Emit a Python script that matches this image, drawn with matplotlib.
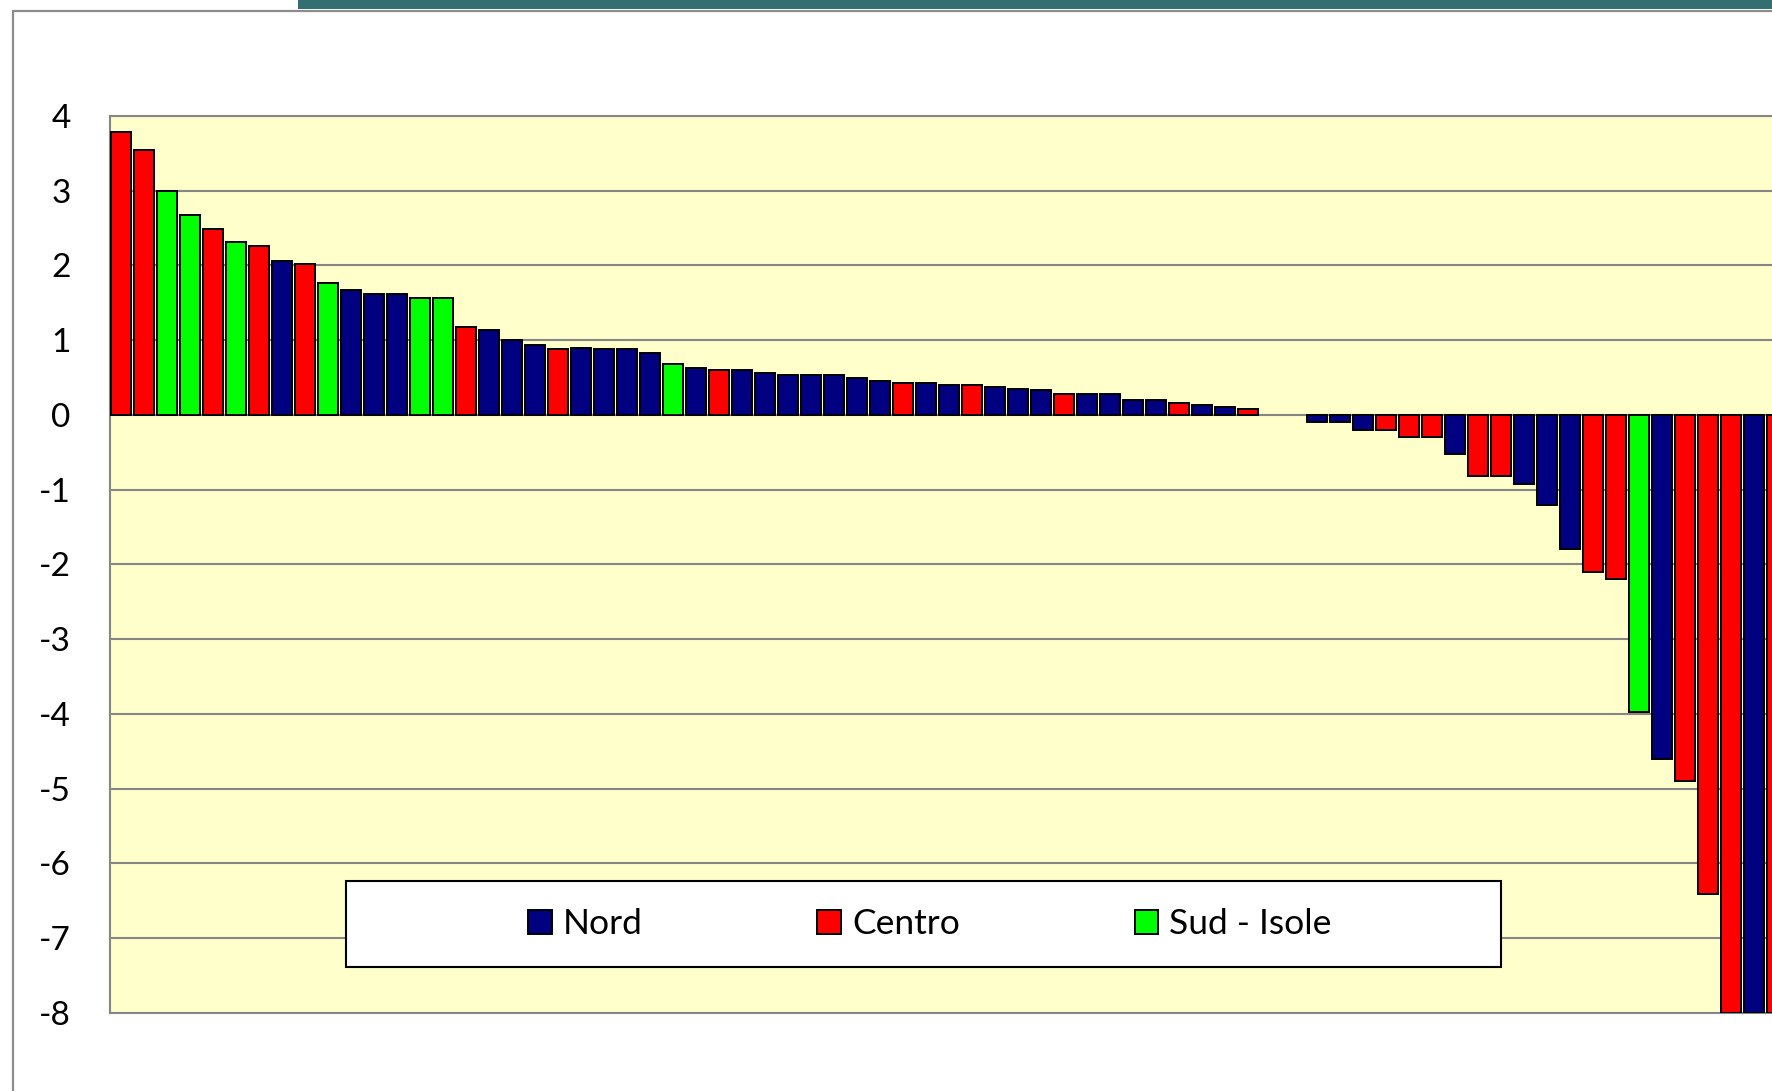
import matplotlib
matplotlib.use("Agg")
import matplotlib.pyplot as plt
from matplotlib.patches import Rectangle, Patch

plt.rcParams['font.family'] = ['Lato', 'DejaVu Sans']
plt.rcParams['axes.unicode_minus'] = False

# ---- data ----
values_pos = [3.79, 3.55, 2.99, 2.68, 2.49, 2.31, 2.26, 2.06, 2.02, 1.77,
              1.67, 1.62, 1.62, 1.57, 1.57, 1.18, 1.13, 1.00, 0.93, 0.88,
              0.89, 0.88, 0.88, 0.83, 0.68, 0.63, 0.60, 0.60, 0.56, 0.53,
              0.53, 0.53, 0.50, 0.46, 0.43, 0.43, 0.40, 0.40, 0.38, 0.35,
              0.33, 0.28, 0.28, 0.28, 0.20, 0.20, 0.16, 0.13, 0.10, 0.08]
regions_pos = ['C', 'C', 'S', 'S', 'C', 'S', 'C', 'N', 'C', 'S',
               'N', 'N', 'N', 'S', 'S', 'C', 'N', 'N', 'N', 'C',
               'N', 'N', 'N', 'N', 'S', 'N', 'C', 'N', 'N', 'N',
               'N', 'N', 'N', 'N', 'C', 'N', 'N', 'C', 'N', 'N',
               'N', 'C', 'N', 'N', 'N', 'N', 'C', 'N', 'N', 'C']
values_zero = [0.0, 0.0]
regions_zero = ['N', 'N']
values_neg = [-0.10, -0.10, -0.20, -0.20, -0.30, -0.30, -0.52, -0.82, -0.82, -0.92,
              -1.21, -1.80, -2.10, -2.20, -3.97, -4.60, -4.90, -6.41, -8.0, -8.0, -8.0]
regions_neg = ['N', 'N', 'N', 'C', 'C', 'C', 'N', 'C', 'C', 'N',
               'N', 'N', 'C', 'C', 'S', 'N', 'C', 'C', 'C', 'N', 'C']

values = values_pos + values_zero + values_neg
regions = regions_pos + regions_zero + regions_neg

legend_labels = ['Nord', 'Centro', 'Sud - Isole']
region_keys = ['N', 'C', 'S']
region_colors = {'N': '#000080', 'C': '#FF0000', 'S': '#00FF00'}
yticks = [4, 3, 2, 1, 0, -1, -2, -3, -4, -5, -6, -7, -8]
ytick_labels = ['4', '3', '2', '1', '0', '-1', '-2', '-3', '-4', '-5', '-6', '-7', '-8']

# ---- figure ----
W, H = 1772, 1091
fig = plt.figure(figsize=(W / 100, H / 100), dpi=100)
fig.patch.set_facecolor('white')

# outer chart frame and teal band
fig.add_artist(Rectangle((13 / W, -0.05), 1.1, 1 - 11 / H + 0.05, transform=fig.transFigure,
                         facecolor='none', edgecolor='#8C8C8C', linewidth=1.6, zorder=0))
fig.add_artist(Rectangle((298 / W, 1 - 9 / H), 1.0, 9 / H + 0.01, transform=fig.transFigure,
                         facecolor='#336F70', edgecolor='none', zorder=0))

left_px, top_px, bottom_px = 109.5, 116, 1012.7
pitch = 23.0
x_right = 74.5
ax_w_px = (x_right + 0.5) * pitch
ax = fig.add_axes([left_px / W, (H - bottom_px) / H, ax_w_px / W, (bottom_px - top_px) / H])
ax.set_facecolor('#FFFFCC')

x = list(range(len(values)))
colors = [region_colors[r] for r in regions]
lws = [0 if v == 0 else 1.4 for v in values]
ax.bar(x, values, width=0.87, color=colors, edgecolor='black', linewidth=lws, zorder=3)

ax.set_xlim(-0.5, x_right)
ax.set_ylim(-8, 4)
ax.set_yticks(yticks)
ax.set_yticklabels(ytick_labels, fontsize=24)
ax.set_xticks([])
ax.tick_params(axis='y', length=0, pad=28)
ax.yaxis.grid(True, color='#868686', linewidth=1.5)
ax.set_axisbelow(True)
for s in ['left', 'top', 'bottom', 'right']:
    ax.spines[s].set_color('#868686')
    ax.spines[s].set_linewidth(1.5)

# legend box
fig.add_artist(Rectangle((346 / W, 1 - 967 / H), (1501 - 346) / W, (967 - 881) / H,
                         transform=fig.transFigure, facecolor='white', edgecolor='black',
                         linewidth=1.5, zorder=4))
handles = [Patch(facecolor=region_colors[k], edgecolor='black', linewidth=1.4) for k in region_keys]
leg = fig.legend(handles, legend_labels, loc='center', bbox_to_anchor=(930 / W, 1 - 924 / H),
                 ncol=3, frameon=False, fontsize=25.5, handlelength=0.66, handleheight=0.66,
                 handletextpad=0.32, columnspacing=4.93, borderpad=0)
leg.set_zorder(5)

fig.savefig('out.png', dpi=100)
